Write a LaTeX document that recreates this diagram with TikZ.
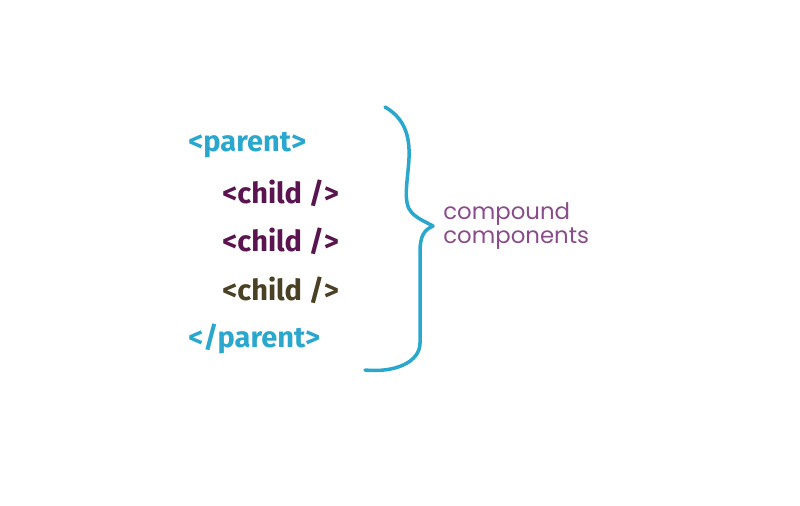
\documentclass[tikz,border=0pt]{standalone}
\usepackage{fontspec}
\usetikzlibrary{positioning}
\newfontfamily\codefont{Fira Sans}
\newfontfamily\labelfont{Poppins}
\definecolor{tagblue}{HTML}{2AA7CD}
\definecolor{childpurple}{HTML}{5A1450}
\definecolor{childolive}{HTML}{4A4125}
\definecolor{labelpurple}{HTML}{8A4D8C}
\tikzset{
  parenttag/.style={anchor=west, inner sep=0pt, text=tagblue, font=\codefont\bfseries\fontsize{16.5}{18}\selectfont},
  childtag/.style={anchor=west, inner sep=0pt, font=\codefont\bfseries\fontsize{16.5}{18}\selectfont},
  bracelabel/.style={anchor=west, inner sep=0pt, text=labelpurple, font=\labelfont\fontsize{13}{14}\selectfont}
}
\begin{document}
\begin{tikzpicture}[x=0.02cm, y=-0.02cm]
	
	% canvas
	\useasboundingbox (0,0) rectangle (800,505);
	
	% parameters
	\def\brw{2pt}     % brace thickness
	
	% opening tag
	\node[parenttag] (open) at (188,145) {<parent>};
	
	% children
	\node[childtag, text=childpurple] (childa) at (222,193) {<child />};
	\node[childtag, text=childpurple] (childb) at (222,241) {<child />};
	\node[childtag, text=childolive]  (childc) at (222,290) {<child />};
	
	% closing tag
	\node[parenttag] (close) at (188,339) {</parent>};
	
	% curly brace
	\draw[line width=\brw, tagblue, line cap=round, line join=round]
	(385,107) .. controls (404,118) and (410,135) .. (409,158)
	.. controls (408,180) and (402,203) .. (412,213)
	.. controls (418,219) and (426,222) .. (433,226)
	.. controls (424,230) and (420,236) .. (420,252)
	-- (420,343)
	.. controls (420,362) and (395,373) .. (365,370);
	
	% label, two lines
	\node[bracelabel] (labeltop) at (443,214) {compound};
	\node[bracelabel, below=1pt of labeltop.south west, anchor=north west] (labelbot) {components};
	
\end{tikzpicture}
\end{document}
